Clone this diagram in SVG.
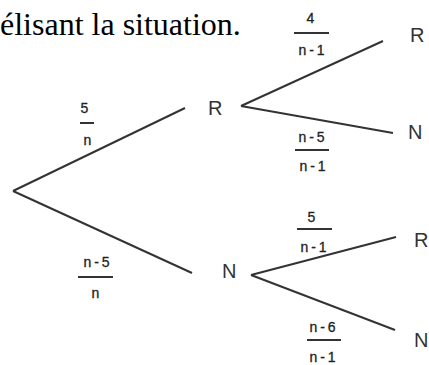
<svg xmlns="http://www.w3.org/2000/svg" width="429" height="365" viewBox="0 0 429 365">
<style>
.caption{font-family:"Liberation Serif","Times New Roman",serif;font-size:32px;fill:#000}
.node{font-family:"Liberation Sans",Arial,sans-serif;font-size:20px;fill:#333}
.lab{font-family:"Liberation Sans",Arial,sans-serif;font-size:14px;fill:#222;text-anchor:middle;letter-spacing:3px;stroke:#222;stroke-width:0.3}
.bar{stroke:#333;stroke-width:2}
.edge{stroke:#333;stroke-width:2;fill:none}
</style>
<rect width="429" height="365" fill="#fff"/>
<text class="caption" x="0" y="35">élisant la situation.</text>
<g id="connectors">
<line class="edge" x1="13" y1="191" x2="185" y2="108"/>
<line class="edge" x1="13" y1="191" x2="192" y2="273"/>
<line class="edge" x1="241" y1="106" x2="383" y2="41"/>
<line class="edge" x1="241" y1="106" x2="393" y2="133"/>
<line class="edge" x1="251" y1="275" x2="396" y2="237"/>
<line class="edge" x1="251" y1="275" x2="395" y2="330"/>
</g>
<g id="node-R1"><text class="node" x="208" y="115">R</text></g>
<g id="node-N1"><text class="node" x="222" y="278">N</text></g>
<g id="node-RR"><text class="node" x="410" y="42">R</text></g>
<g id="node-RN"><text class="node" x="408" y="139">N</text></g>
<g id="node-NR"><text class="node" x="414" y="247">R</text></g>
<g id="node-NN"><text class="node" x="414" y="347">N</text></g>
<g id="labels">
<g><text class="lab" x="312" y="23">4</text><line class="bar" x1="294" y1="33" x2="329" y2="33"/><text class="lab" x="313" y="55">n-1</text></g>
<g><text class="lab" x="86" y="113">5</text><line class="bar" x1="80" y1="123" x2="94" y2="123"/><text class="lab" x="89" y="145">n</text></g>
<g><text class="lab" x="313" y="142">n-5</text><line class="bar" x1="295" y1="150" x2="329" y2="150"/><text class="lab" x="314" y="171">n-1</text></g>
<g><text class="lab" x="313" y="222">5</text><line class="bar" x1="297" y1="229" x2="332" y2="229"/><text class="lab" x="315" y="252">n-1</text></g>
<g><text class="lab" x="98" y="267">n-5</text><line class="bar" x1="78" y1="277" x2="113" y2="277"/><text class="lab" x="97" y="298">n</text></g>
<g><text class="lab" x="324" y="332">n-6</text><line class="bar" x1="307" y1="340" x2="341" y2="340"/><text class="lab" x="324" y="362">n-1</text></g>
</g>
</svg>
